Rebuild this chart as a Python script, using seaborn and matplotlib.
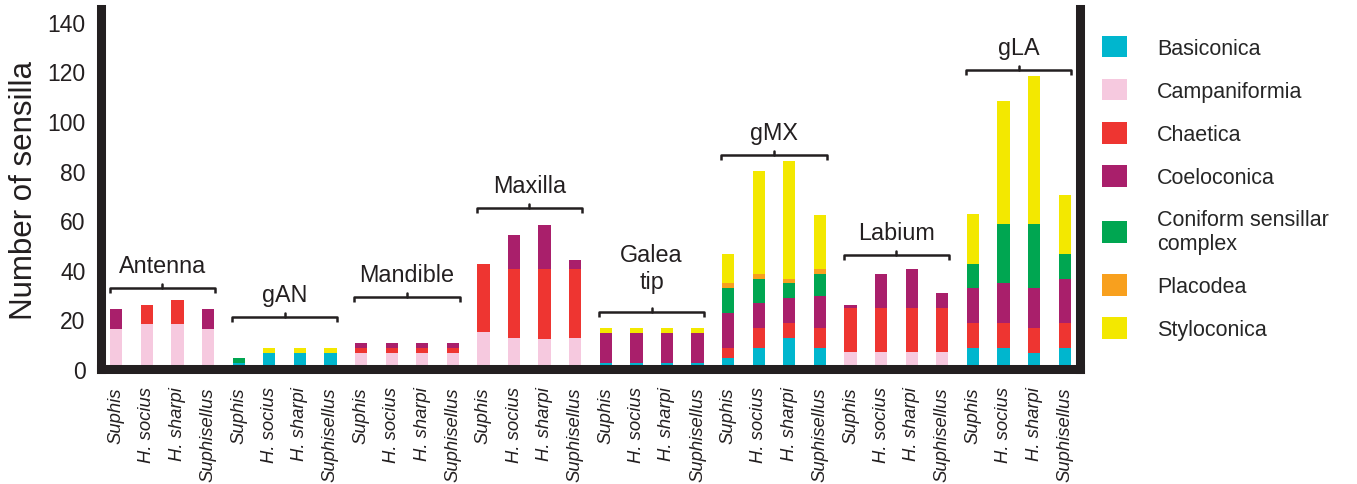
import numpy as np
import pandas as pd
import matplotlib
matplotlib.use("Agg")
import matplotlib.pyplot as plt
from matplotlib.patches import Patch
import seaborn as sns

# Mouthpart / appendage groups and species shown within each group
organs = ["Antenna", "gAN", "Mandible", "Maxilla", "Galea\ntip", "gMX", "Labium", "gLA"]
species = ["Suphis", "H. socius", "H. sharpi", "Suphisellus"]

sensilla_types = ["Basiconica", "Campaniformia", "Chaetica", "Coeloconica",
                  "Coniform sensillar\ncomplex", "Placodea", "Styloconica"]
type_colors = ["#00B6CE", "#F6C9DF", "#EE3531", "#A91F6B", "#00A651", "#F8A01E", "#F3E800"]

# Sensilla counts per bar, organ by organ (4 species each)
basiconica    = [0, 0, 0, 0,   2.5, 6.5, 6.5, 6.5,  0, 0, 0, 0,          0, 0, 0, 0,
                 2.5, 2.5, 2.5, 2.5,  4.5, 8.5, 12.5, 8.5,  0, 0, 0, 0,  8.5, 8.5, 6.5, 8.5]
campaniformia = [16, 18, 18, 16,  0, 0, 0, 0,   6.5, 6.5, 6.5, 6.5,  15, 12.5, 12, 12.5,
                 0, 0, 0, 0,  0, 0, 0, 0,  7, 7, 7, 7,  0, 0, 0, 0]
chaetica      = [0, 8, 10, 0,  0, 0, 0, 0,  2, 2, 2, 2,  27.5, 28, 28.5, 28,
                 0, 0, 0, 0,  4, 8, 6, 8,  17.5, 17.5, 17.5, 17.5,  10, 10, 10, 10]
coeloconica   = [8, 0, 0, 8,  0, 0, 0, 0,  2, 2, 2, 2,  0, 13.5, 17.5, 3.5,
                 12, 12, 12, 12,  14, 10, 10, 13,  1.5, 14, 16, 6,  14, 16, 16, 18]
coniform      = [0, 0, 0, 0,  2, 0, 0, 0,  0, 0, 0, 0,  0, 0, 0, 0,
                 0, 0, 0, 0,  10, 10, 6, 9,  0, 0, 0, 0,  10, 24, 26, 10]
placodea      = [0, 0, 0, 0,  0, 0, 0, 0,  0, 0, 0, 0,  0, 0, 0, 0,
                 0, 0, 0, 0,  2, 2, 2, 2,  0, 0, 0, 0,  0, 0, 0, 0]
styloconica   = [0, 0, 0, 0,  0, 2, 2, 2,  0, 0, 0, 0,  0, 0, 0, 0,
                 2, 2, 2, 2,  12, 41.5, 47.5, 21.5,  0, 0, 0, 0,  20, 49.5, 59.5, 23.5]

counts = [basiconica, campaniformia, chaetica, coeloconica, coniform, placodea, styloconica]

# Height of the bracket drawn over each organ group
bracket_y = [32.7, 21, 29, 65, 23, 86.3, 46, 120.6]

# ---- long table with cumulative stack tops ----
slots = [f"{o}|{s}" for o in organs for s in species]
cum = np.cumsum(np.array(counts, dtype=float), axis=0)
rows = []
for ti, t in enumerate(sensilla_types):
    for si, slot in enumerate(slots):
        rows.append({"slot": slot, "type": t, "top": cum[ti, si]})
df = pd.DataFrame(rows)

sns.set_theme(style="white")
plt.rcParams["font.family"] = ["Liberation Sans", "DejaVu Sans"]

fig = plt.figure(figsize=(13.57, 4.85), dpi=100)
ax = fig.add_axes([0.07443, 0.23711, 0.72144, 0.74227])

# draw stacks from the top layer down so each lower layer covers the one above
for t, c in reversed(list(zip(sensilla_types, type_colors))):
    sub = df[df["type"] == t]
    sns.barplot(data=sub, x="slot", y="top", order=slots, color=c, saturation=1,
                width=0.4, errorbar=None, linewidth=0, ax=ax)

ax.set_ylim(0, 145.2)
ax.set_xlim(-0.5, len(slots) - 0.5)
ax.set_yticks(range(0, 141, 20))
ax.tick_params(axis="y", length=0, pad=11, labelsize=16.5, colors="#231f20")
ax.set_xticks(range(len(slots)))
ax.set_xticklabels(species * len(organs), rotation=90, style="italic", fontsize=13.3)
ax.tick_params(axis="x", length=0, pad=12.5, colors="#231f20")
ax.set_xlabel("")
ax.set_ylabel("Number of sensilla", fontsize=22.5, color="#231f20")
ax.yaxis.set_label_coords(-0.063, 0.5)

ax.spines["top"].set_visible(False)
for side in ["left", "right", "bottom"]:
    ax.spines[side].set_linewidth(6.5)
    ax.spines[side].set_color("#231f20")

# group brackets and names
for gi, (name, by) in enumerate(zip(organs, bracket_y)):
    x0 = gi * 4 - 0.22
    x1 = gi * 4 + 3 + 0.22
    xm = (x0 + x1) / 2
    ax.plot([x0, x0, x1, x1], [by - 2.0, by, by, by - 2.0], color="#231f20",
            lw=1.8, clip_on=False, solid_capstyle="butt")
    ax.plot([xm, xm], [by, by + 1.6], color="#231f20", lw=1.8, clip_on=False)
    nlines = name.count("\n") + 1
    ax.text(xm, by + 9.2 + 8.5 * (nlines - 1), name, ha="center", va="center",
            fontsize=16.8, color="#231f20", linespacing=1.2)

handles = [Patch(facecolor=c, edgecolor="none", label=t)
           for t, c in zip(sensilla_types, type_colors)]
ax.legend(handles=handles, loc="upper left", bbox_to_anchor=(0.812, 0.924),
          bbox_transform=fig.transFigure, frameon=False, fontsize=15.5,
          handlelength=1.15, handleheight=1.15, handletextpad=1.4,
          labelspacing=0.94, borderaxespad=0, borderpad=0)

fig.savefig("out.png", dpi=100)
